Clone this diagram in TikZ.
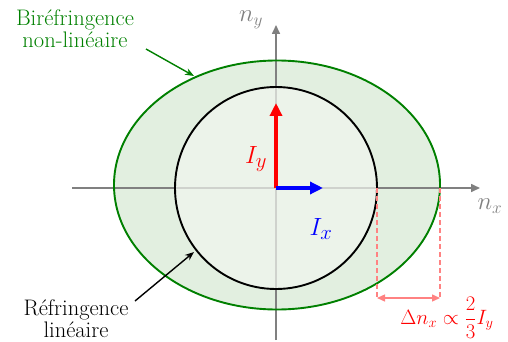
\documentclass[tikz,border=0pt]{standalone}
\usepackage{amsmath,amssymb}
\usetikzlibrary{arrows.meta}
\definecolor{ringfill}{RGB}{226,239,224}
\definecolor{discfill}{RGB}{241,246,239}
\definecolor{axgray}{RGB}{128,128,128}
\definecolor{dgreen}{RGB}{0,128,0}
\definecolor{lred}{RGB}{255,130,130}
\tikzset{
  axis/.style={draw=axgray, line width=1.6pt, -{Triangle[length=9pt,width=8pt]}},
  vec/.style={line width=4pt, -{Triangle[length=13pt,width=12pt]}},
  note/.style={align=center, font=\fontsize{22.5}{22}\selectfont},
  pointer/.style={line width=1.4pt, -{Stealth[length=9pt,width=7pt]}},
  dim/.style={draw=lred, line width=1.3pt, dashed, dash pattern=on 5pt off 3pt},
}
\begin{document}
\begin{tikzpicture}[x=1pt,y=-1pt]
\useasboundingbox (0,0) rectangle (508,342);
% nonlinear ellipse fill
\fill[ringfill] (277,185) ellipse [x radius=163, y radius=124.5];
% axes
\coordinate (O) at (276,188);
\coordinate (xl) at (72,188);
\coordinate (xr) at (480,188);
\coordinate (yb) at (276,340);
\coordinate (yt) at (276,25);
\draw[axis] (xl) -- (xr);
\draw[axis] (yb) -- (yt);
\node[text=axgray, font=\fontsize{25}{25}\selectfont] (ny) at (251,20) {$n_y$};
\node[text=axgray, font=\fontsize{25}{25}\selectfont] (nx) at (490,206) {$n_x$};
% linear disc
\fill[discfill, fill opacity=0.7] (O) circle [radius=101];
% outlines
\draw[dgreen, line width=1.9pt] (277,185) ellipse [x radius=163, y radius=124.5];
\draw[black, line width=1.9pt] (O) circle [radius=101];
% intensity vectors
\coordinate (ytip) at (276,103);
\coordinate (xtip) at (323,188);
\draw[vec, red] (O) -- (ytip);
\draw[vec, blue] (O) -- (xtip);
\node[text=red, font=\fontsize{32}{32}\selectfont] (Iy) at (256,159) {$I_y$};
\node[text=blue, font=\fontsize{32}{32}\selectfont] (Ix) at (321,229) {$I_x$};
% dimension lines
\coordinate (d1t) at (377,188);
\coordinate (d2t) at (440,188);
\coordinate (d1b) at (377,298);
\coordinate (d2b) at (440,298);
\draw[dim] (d1t) -- (d1b);
\draw[dim] (d2t) -- (d2b);
\draw[draw=lred, line width=1.4pt, {Triangle[length=8pt,width=7pt]}-{Triangle[length=8pt,width=7pt]}] (d1b) -- (d2b);
\node[text=red, font=\fontsize{20}{20}\selectfont] (dn) at (447,318) {$\Delta n_x \propto \dfrac{2}{3} I_y$};
% annotations
\node[note, text=dgreen] (bir) at (75,29) {Biréfringence\\non-linéaire};
\coordinate (birtip) at (194,76);
\draw[pointer, dgreen] (146,49) -- (birtip);
\node[note] (ref) at (76,319) {Réfringence\\linéaire};
\coordinate (reftip) at (194,252);
\draw[pointer] (135,301) -- (reftip);
\end{tikzpicture}
\end{document}
